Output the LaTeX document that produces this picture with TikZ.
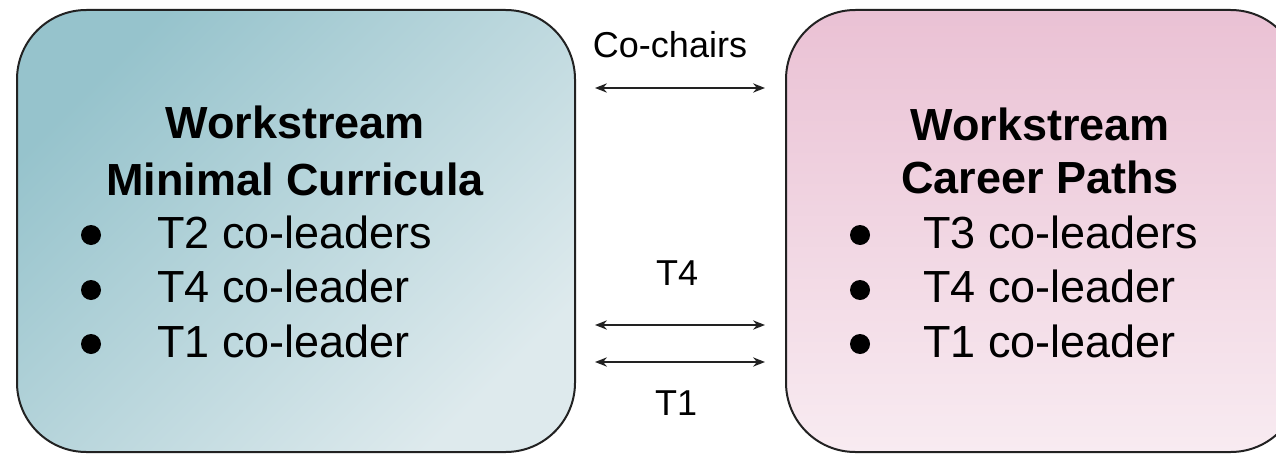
\documentclass[tikz,border=0pt]{standalone}
\usepackage{fontspec}
\setmainfont{Liberation Sans}
\usetikzlibrary{arrows.meta}
\definecolor{tealA}{HTML}{96C3CC}
\definecolor{tealB}{HTML}{DEEAED}
\definecolor{pinkA}{HTML}{EAC1D4}
\definecolor{pinkB}{HTML}{F8EBF1}
\definecolor{linec}{HTML}{222222}
\begin{document}
\begin{tikzpicture}[x=0.75pt,y=-0.75pt,
  box/.style={draw=linec, line width=1.5pt, rounded corners=52pt, inner sep=0pt},
  head/.style={inner sep=0pt, anchor=base, font=\fontsize{33.75}{40}\selectfont\bfseries},
  item/.style={inner sep=0pt, anchor=base west, font=\fontsize{33.75}{40}\selectfont},
  dot/.style={circle, fill=black, inner sep=0pt, minimum size=15pt},
  lbl/.style={inner sep=0pt, anchor=base, font=\fontsize{27}{32}\selectfont},
  link/.style={draw=linec, line width=1.1pt, {Stealth[length=9pt,width=7pt,inset=3pt]}-{Stealth[length=9pt,width=7pt,inset=3pt]}}]
\useasboundingbox (0,0) rectangle (1276,453);
% boxes
\node[box, minimum width=418.5pt, minimum height=331.5pt, top color=tealA, bottom color=tealB, shading angle=45] (L) at (296,231) {};
\node[box, minimum width=385.5pt, minimum height=331.5pt, top color=pinkA, bottom color=pinkB] (R) at (1043,231) {};
% left text
\node[head] (l1) at (295,138) {Workstream};
\node[head] (l2) at (295,195) {Minimal Curricula};
\node[dot] (lb1) at (91,235) {};
\node[dot] (lb2) at (91,290) {};
\node[dot] (lb3) at (91,344) {};
\node[item] (lt1) at (157,248) {T2 co-leaders};
\node[item] (lt2) at (157,302) {T4 co-leader};
\node[item] (lt3) at (157,357) {T1 co-leader};
% right text
\node[head] (r1) at (1040,140) {Workstream};
\node[head] (r2) at (1040,193) {Career Paths};
\node[dot] (rb1) at (860,235) {};
\node[dot] (rb2) at (860,290) {};
\node[dot] (rb3) at (860,344) {};
\node[item] (rt1) at (923,248) {T3 co-leaders};
\node[item] (rt2) at (923,302) {T4 co-leader};
\node[item] (rt3) at (923,357) {T1 co-leader};
% connectors
\coordinate (c1) at (595,88);
\coordinate (c2) at (765,88);
\coordinate (d1) at (595,325);
\coordinate (d2) at (765,325);
\coordinate (e1) at (595,362);
\coordinate (e2) at (765,362);
\draw[link] (c1) -- (c2);
\draw[link] (d1) -- (d2);
\draw[link] (e1) -- (e2);
\node[lbl] (cl) at (670,58) {Co-chairs};
\node[lbl] (tl4) at (677,285) {T4};
\node[lbl] (tl1) at (676,415) {T1};
\end{tikzpicture}
\end{document}
